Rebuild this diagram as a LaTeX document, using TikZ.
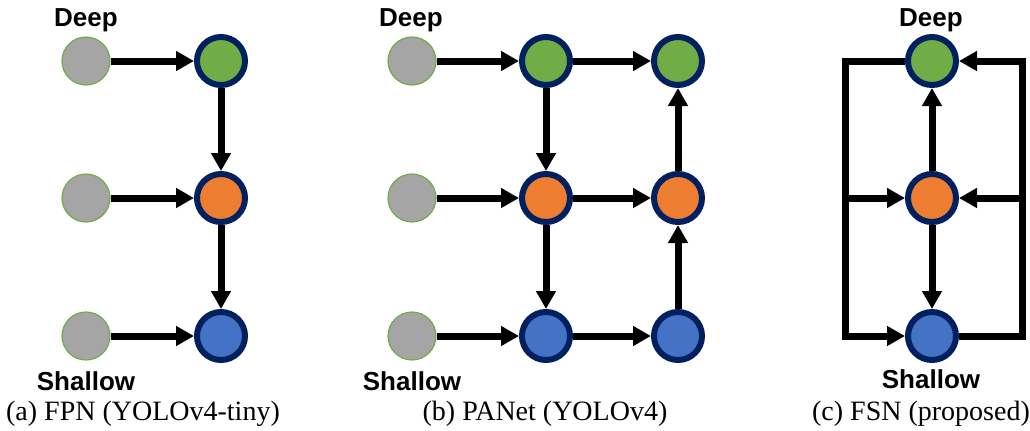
\documentclass[tikz,border=0pt]{standalone}
\usepackage{fontspec}
\setmainfont{Liberation Serif}
\newfontfamily\lblfont{Liberation Sans}
\usetikzlibrary{arrows.meta}
\definecolor{feat}{HTML}{A5A5A5}
\definecolor{featrim}{HTML}{70AD47}
\definecolor{deepc}{HTML}{70AD47}
\definecolor{midc}{HTML}{ED7D31}
\definecolor{shalc}{HTML}{4472C4}
\definecolor{rim}{HTML}{002060}
\begin{document}
\begin{tikzpicture}[x=.5pt,y=-.5pt,
  inp/.style={circle,draw=featrim,line width=.6pt,fill=feat,minimum size=24pt,inner sep=0pt},
  fuse/.style={circle,draw=rim,line width=3pt,minimum size=24pt,inner sep=0pt},
  flow/.style={line width=3.5pt,line join=miter,-{Triangle[length=9pt,width=9.5pt]}},
  tag/.style={font=\lblfont\bfseries\fontsize{13}{15}\selectfont},
  subcap/.style={font=\fontsize{14}{16}\selectfont,anchor=base}]
\useasboundingbox (0,0) rectangle (1030,430);
% (a) FPN
\node[inp] (ai1) at (86,61) {};
\node[inp] (ai2) at (86,198) {};
\node[inp] (ai3) at (86,336) {};
\node[fuse,fill=deepc] (a1) at (221,61) {};
\node[fuse,fill=midc] (a2) at (221,198) {};
\node[fuse,fill=shalc] (a3) at (221,336) {};
\draw[flow] (ai1) -- (a1);
\draw[flow] (ai2) -- (a2);
\draw[flow] (ai3) -- (a3);
\draw[flow] (a1) -- (a2);
\draw[flow] (a2) -- (a3);
\node[tag] (adeep) at (86,20) {Deep};
\node[tag] (ashal) at (86,381) {Shallow};
\node[subcap] (acap) at (143,420) {(a) FPN (YOLOv4-tiny)};
% (b) PANet
\node[inp] (bi1) at (412,61) {};
\node[inp] (bi2) at (412,198) {};
\node[inp] (bi3) at (412,336) {};
\node[fuse,fill=deepc] (b1) at (546,61) {};
\node[fuse,fill=midc] (b2) at (546,198) {};
\node[fuse,fill=shalc] (b3) at (546,336) {};
\node[fuse,fill=deepc] (p1) at (678,61) {};
\node[fuse,fill=midc] (p2) at (678,198) {};
\node[fuse,fill=shalc] (p3) at (678,336) {};
\draw[flow] (bi1) -- (b1);
\draw[flow] (bi2) -- (b2);
\draw[flow] (bi3) -- (b3);
\draw[flow] (b1) -- (b2);
\draw[flow] (b2) -- (b3);
\draw[flow] (b1) -- (p1);
\draw[flow] (b2) -- (p2);
\draw[flow] (b3) -- (p3);
\draw[flow] (p3) -- (p2);
\draw[flow] (p2) -- (p1);
\node[tag] (bdeep) at (411,20) {Deep};
\node[tag] (bshal) at (412,381) {Shallow};
\node[subcap] (bcap) at (545,420) {(b) PANet (YOLOv4)};
% (c) FSN
\node[fuse,fill=deepc] (c1) at (932,61) {};
\node[fuse,fill=midc] (c2) at (932,198) {};
\node[fuse,fill=shalc] (c3) at (932,336) {};
\coordinate (lt) at (845,61);
\coordinate (lm) at (845,198);
\coordinate (lb) at (845,336);
\coordinate (rt) at (1022,61);
\coordinate (rm) at (1022,198);
\coordinate (rb) at (1022,336);
\draw[flow] (c1.west) -- (lt) -- (lb) -- (c3.west);
\draw[flow] (lm) -- (c2.west);
\draw[flow] (c3.east) -- (rb) -- (rt) -- (c1.east);
\draw[flow] (rm) -- (c2.east);
\draw[flow] (c2) -- (c1);
\draw[flow] (c2) -- (c3);
\node[tag] (cdeep) at (931,20) {Deep};
\node[tag] (cshal) at (931,379) {Shallow};
\node[subcap] (ccap) at (921,420) {(c) FSN (proposed)};
\end{tikzpicture}
\end{document}
